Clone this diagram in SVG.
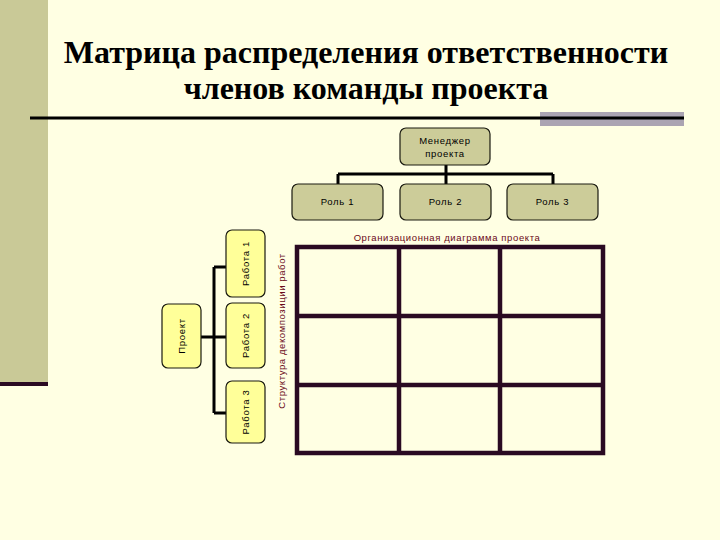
<svg xmlns="http://www.w3.org/2000/svg" width="720" height="540" viewBox="0 0 720 540">
<style>
.title{font-family:"Liberation Serif","Times New Roman",serif;font-weight:bold;font-size:32px;fill:#000;text-anchor:middle}
.lbl{font-family:"Liberation Sans",Arial,sans-serif;font-size:9.5px;fill:#000;text-anchor:middle;letter-spacing:0.7px}
.cap{font-family:"Liberation Sans",Arial,sans-serif;font-size:9.5px;fill:#6B0A1A;text-anchor:middle;letter-spacing:0.6px}
.role{fill:#CCCC99;stroke:#1A1A10;stroke-width:1.2}
.wbs{fill:#FFFF99;stroke:#1A1A10;stroke-width:1.2}
.conn{fill:none;stroke:#000;stroke-width:3}
.grid{fill:none;stroke:#2A0A22;stroke-width:4.5}
</style>
<rect x="0" y="0" width="720" height="540" fill="#FFFFE3"/>
<rect x="0" y="0" width="48" height="382" fill="#C9C997"/>
<rect x="0" y="382" width="48" height="4" fill="#2A0A22"/>
<rect x="540" y="112" width="144" height="14" fill="#ABA4B2"/>
<line x1="30" y1="118" x2="684" y2="118" stroke="#000" stroke-width="3"/>
<text class="title" x="366" y="63">Матрица распределения ответственности</text>
<text class="title" x="366" y="99">членов команды проекта</text>

<g id="connectors">
<path class="conn" d="M446 165 V174 M338 174 H553 M338 174 V184 M446 174 V184 M553 174 V184"/>
<path class="conn" d="M201 337 H214 M214 267 V413 M214 267 H226 M214 337 H226 M214 413 H226"/>
</g>

<g id="manager"><rect class="role" x="400" y="128" width="90" height="37" rx="6"/>
<text class="lbl" x="445" y="144">Менеджер</text><text class="lbl" x="445" y="157">проекта</text></g>
<g id="role1"><rect class="role" x="292" y="184" width="91" height="36" rx="6"/><text class="lbl" x="337.5" y="205">Роль 1</text></g>
<g id="role2"><rect class="role" x="400" y="184" width="91" height="36" rx="6"/><text class="lbl" x="445.5" y="205">Роль 2</text></g>
<g id="role3"><rect class="role" x="507" y="184" width="91" height="36" rx="6"/><text class="lbl" x="552.5" y="205">Роль 3</text></g>
<g id="org-caption"><text class="cap" x="447" y="241">Организационная диаграмма проекта</text></g>

<g id="project"><rect class="wbs" x="162" y="304" width="39" height="64" rx="6"/>
<text class="lbl" transform="translate(185 336) rotate(-90)">Проект</text></g>
<g id="work1"><rect class="wbs" x="226" y="230" width="39" height="67" rx="6"/>
<text class="lbl" transform="translate(249 263.5) rotate(-90)">Работа 1</text></g>
<g id="work2"><rect class="wbs" x="226" y="303" width="39" height="65" rx="6"/>
<text class="lbl" transform="translate(249 335.5) rotate(-90)">Работа 2</text></g>
<g id="work3"><rect class="wbs" x="226" y="381" width="39" height="62" rx="6"/>
<text class="lbl" transform="translate(249 412) rotate(-90)">Работа 3</text></g>
<g id="wbs-caption"><text class="cap" transform="translate(285 331) rotate(-90)">Структура декомпозиции работ</text></g>

<g id="matrix">
<rect class="grid" x="297" y="247" width="306" height="206"/>
<path class="grid" d="M399 247 V453 M500 247 V453 M297 316 H603 M297 385 H603"/>
</g>
</svg>
